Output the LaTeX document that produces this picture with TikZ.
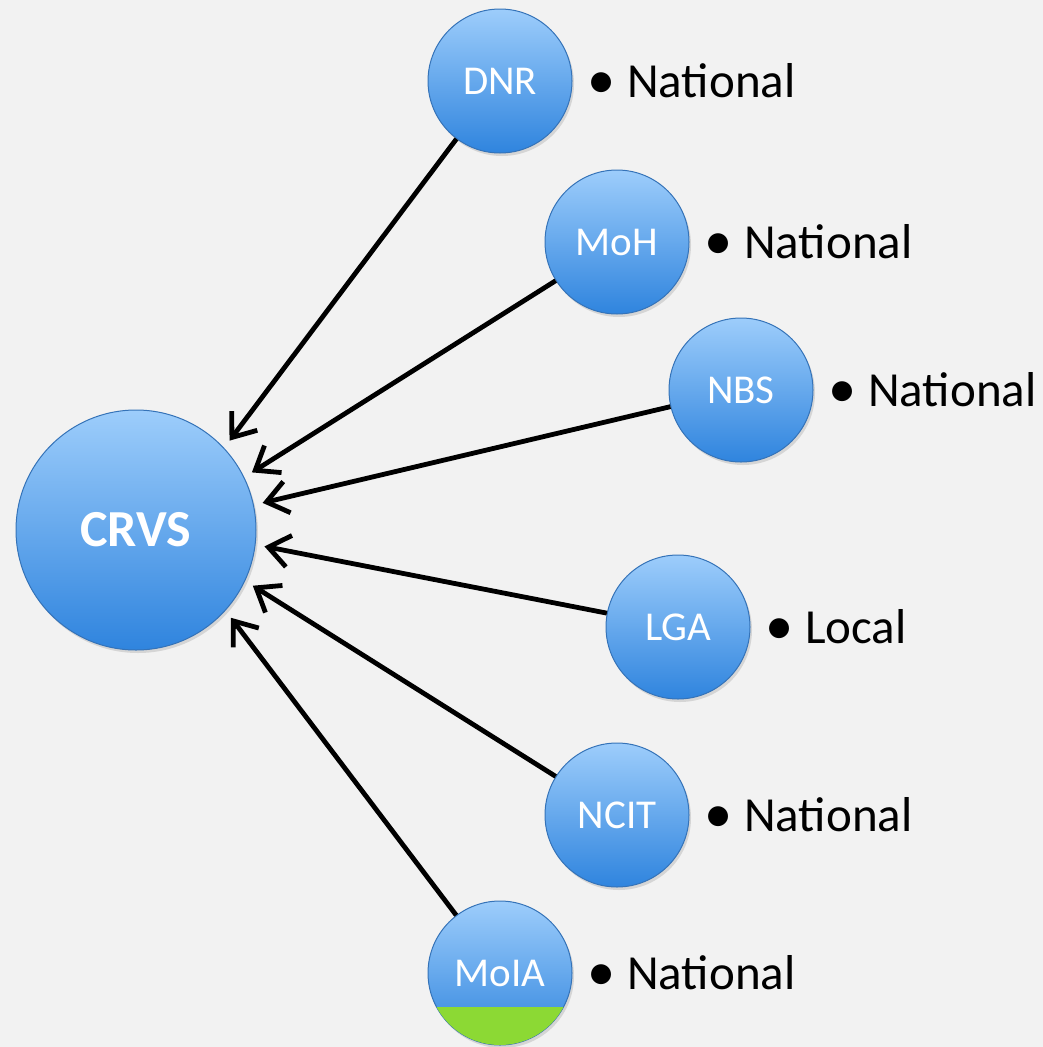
\documentclass[tikz,border=0pt]{standalone}
\usepackage{fontspec}
\setmainfont{Carlito}
\usepackage{tikz}
\usepackage{xcolor}
\usetikzlibrary{arrows.meta,shadows}

\definecolor{paper}{HTML}{F2F2F2}
\definecolor{balltop}{HTML}{9DCDFB}
\definecolor{ballbot}{HTML}{2F84DE}
\definecolor{ballrim}{HTML}{3573B8}
\definecolor{glitch}{HTML}{8CD934}

\newcommand{\dotmark}{\makebox[40pt][l]{\raisebox{-0.5pt}{\scalebox{1.15}{•}}}}

\begin{document}
\begin{tikzpicture}[x=1pt,y=-1pt,
    ball/.style={circle,inner sep=0pt,top color=balltop,bottom color=ballbot,
      draw=ballrim,line width=1pt,text=white,
      drop shadow={opacity=0.25,shadow xshift=2pt,shadow yshift=-3pt}},
    hub/.style={ball,minimum size=240pt,font=\fontsize{52}{60}\selectfont\bfseries},
    agency/.style={ball,minimum size=144pt,font=\fontsize{41}{48}\selectfont},
    reach/.style={anchor=west,inner sep=0pt,font=\fontsize{49}{58}\selectfont},
    feed/.style={line width=4.8pt,-{Straight Barb[length=21pt,width=32pt]},shorten >=9pt}]
        \fill[paper] (0,0) rectangle (1043,1047);
        \useasboundingbox (0,0) rectangle (1043,1047);

        % Central register
        \node[hub] (CRVS) at (136,530) {CRVS};

        % Feeding agencies
        \node[agency] (DNR) at (500,81) {DNR};
        \node[agency] (MoH) at (617,242) {MoH};
        \node[agency] (NBS) at (741,390) {NBS};
        \node[agency] (LGA) at (678,627) {LGA};
        \node[agency] (NCIT) at (617,815) {NCIT};
        \node[agency] (MoIA) at (500,973) {MoIA};

        % Broken bottom of MoIA
        \begin{scope}
            \clip (500,973) circle (72);
            \fill[glitch] (420,1007) rectangle (580,1050);
        \end{scope}

        % Level of each agency
        \node[reach] (DNR-l) at (587,81) {\dotmark National};
        \node[reach] (MoH-l) at (704,242) {\dotmark National};
        \node[reach] (NBS-l) at (828,390) {\dotmark National};
        \node[reach] (LGA-l) at (765,627) {\dotmark Local};
        \node[reach] (NCIT-l) at (704,815) {\dotmark National};
        \node[reach] (MoIA-l) at (587,973) {\dotmark National};

        % Data flows into CRVS
        \draw[feed] (DNR) -- (CRVS.43);
        \draw[feed] (MoH) -- (CRVS.26);
        \draw[feed] (NBS) -- (CRVS.12);
        \draw[feed] (LGA) -- (CRVS.-7);
        \draw[feed] (NCIT) -- (CRVS.-25);
        \draw[feed] (MoIA) -- (CRVS.-42);
\end{tikzpicture}
\end{document}
